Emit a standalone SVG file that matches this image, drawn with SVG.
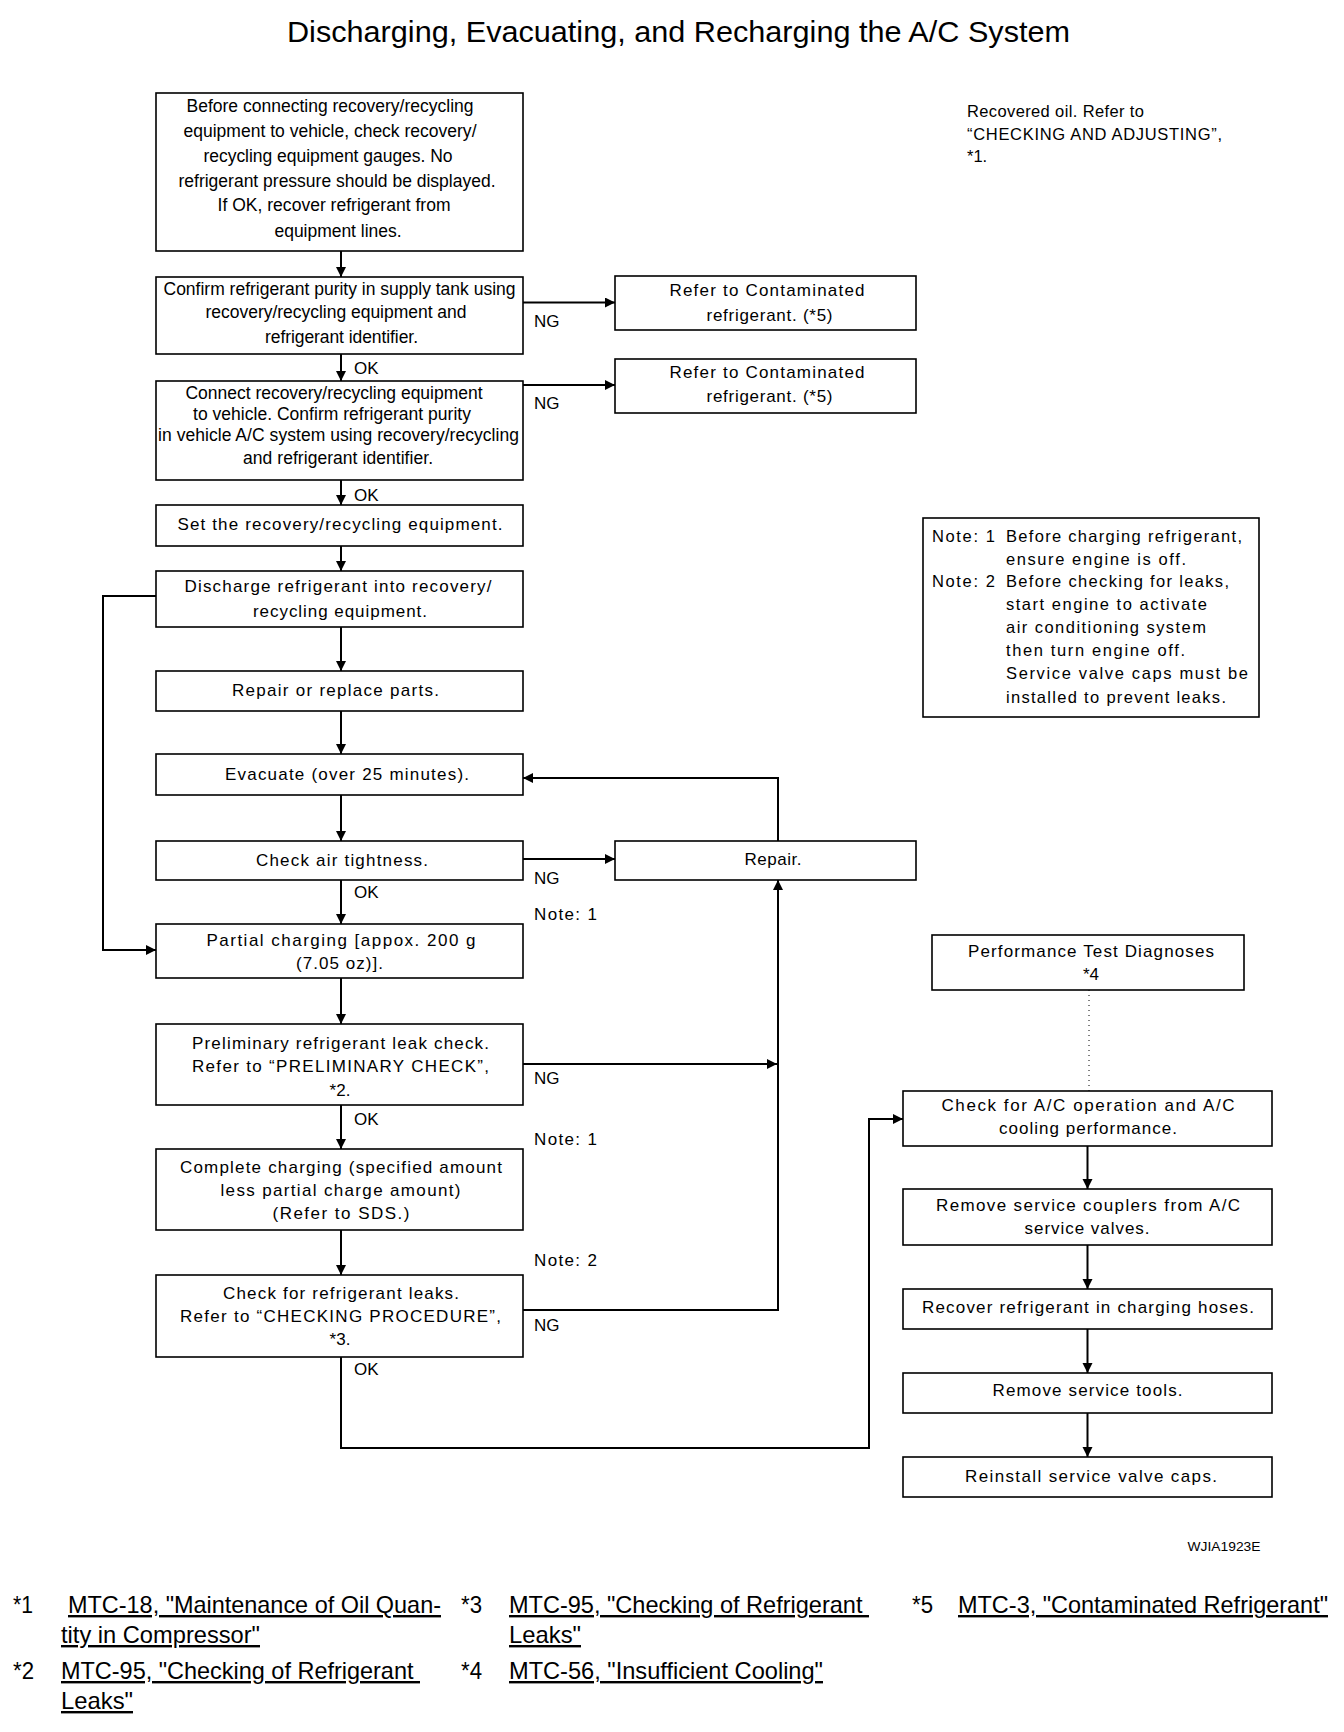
<svg xmlns="http://www.w3.org/2000/svg" width="1344" height="1732" viewBox="0 0 1344 1732">
<defs>
<marker id="ah" markerUnits="userSpaceOnUse" markerWidth="11" markerHeight="11" refX="10" refY="5" orient="auto"><path d="M0,0 L10,5 L0,10 z" fill="#000"/></marker>
<style>
text{font-family:"Liberation Sans",Arial,sans-serif;fill:#000}
.box{fill:#fff;stroke:#000;stroke-width:1.6}
.t{font-size:17.5px;text-anchor:middle}
.s{font-size:17px;text-anchor:middle}
.l{font-size:17px}
.n{font-size:16.5px}
.c{fill:none;stroke:#000;stroke-width:2}
.a{marker-end:url(#ah)}
.d{fill:none;stroke:#000;stroke-width:1;stroke-dasharray:1,4}
.f{font-size:24px}
.u{text-decoration:underline}
</style>
</defs>
<rect width="1344" height="1732" fill="#fff"/>
<text x="678.5" y="42" font-size="30" text-anchor="middle" textLength="783" lengthAdjust="spacingAndGlyphs">Discharging, Evacuating, and Recharging the A/C System</text>

<g id="connectors">
<path class="c a" d="M341,251 V277"/>
<path class="c a" d="M341,354 V381"/>
<path class="c a" d="M341,480 V505"/>
<path class="c a" d="M341,546 V571"/>
<path class="c a" d="M341,627 V671"/>
<path class="c a" d="M341,711 V754"/>
<path class="c a" d="M341,795 V841"/>
<path class="c a" d="M341,880 V924"/>
<path class="c a" d="M341,978 V1024"/>
<path class="c a" d="M341,1105 V1149"/>
<path class="c a" d="M341,1230 V1275"/>
<path class="c a" d="M523,302.5 H615"/>
<path class="c a" d="M523,385 H615"/>
<path class="c a" d="M523,859 H615"/>
<path class="c a" d="M523,1064 H777"/>
<path class="c a" d="M523,1310 H778 V880"/>
<path class="c a" d="M778,841 V778 H523"/>
<path class="c a" d="M156,596 H103 V950 H156"/>
<path class="c a" d="M341,1357 V1448 H869 V1119 H903"/>
<path class="d" d="M1089,990 V1091"/>
<path class="c a" d="M1087.5,1146 V1189"/>
<path class="c a" d="M1087.5,1245 V1289"/>
<path class="c a" d="M1087.5,1329 V1373"/>
<path class="c a" d="M1087.5,1413 V1457"/>
</g>

<g id="labels">
<text class="l" x="534" y="327">NG</text>
<text class="l" x="534" y="409">NG</text>
<text class="l" x="534" y="884">NG</text>
<text class="l" x="534" y="1084">NG</text>
<text class="l" x="534" y="1331">NG</text>
<text class="l" x="354" y="374">OK</text>
<text class="l" x="354" y="501">OK</text>
<text class="l" x="354" y="898">OK</text>
<text class="l" x="354" y="1125">OK</text>
<text class="l" x="354" y="1375">OK</text>
<text class="l" x="534" y="920" textLength="63">Note: 1</text>
<text class="l" x="534" y="1145" textLength="63">Note: 1</text>
<text class="l" x="534" y="1266" textLength="63">Note: 2</text>
</g>

<g id="n-before">
<rect class="box" x="156" y="93" width="367" height="158"/>
<text class="t" x="330" y="112" textLength="287">Before connecting recovery/recycling</text>
<text class="t" x="330" y="137" textLength="293">equipment to vehicle, check recovery/</text>
<text class="t" x="328" y="162" textLength="249">recycling equipment gauges. No</text>
<text class="t" x="337" y="187" textLength="317">refrigerant pressure should be displayed.</text>
<text class="t" x="334" y="211" textLength="233">If OK, recover refrigerant from</text>
<text class="t" x="338" y="237" textLength="127">equipment lines.</text>
</g>

<g id="n-confirm-supply">
<rect class="box" x="156" y="277" width="367" height="77"/>
<text class="t" x="339.5" y="295" textLength="352">Confirm refrigerant purity in supply tank using</text>
<text class="t" x="336" y="318" textLength="261">recovery/recycling equipment and</text>
<text class="t" x="341.5" y="343" textLength="153">refrigerant identifier.</text>
</g>

<g id="n-connect">
<rect class="box" x="156" y="381" width="367" height="99"/>
<text class="t" x="334" y="399" textLength="297">Connect recovery/recycling equipment</text>
<text class="t" x="332" y="420" textLength="278">to vehicle. Confirm refrigerant purity</text>
<text class="t" x="338.5" y="441" textLength="361">in vehicle A/C system using recovery/recycling</text>
<text class="t" x="338" y="464" textLength="190">and refrigerant identifier.</text>
</g>

<g id="n-refer-a">
<rect class="box" x="615" y="276" width="301" height="54"/>
<text class="s" x="767" y="296" textLength="195">Refer to Contaminated</text>
<text class="s" x="769.5" y="321" textLength="126">refrigerant. (*5)</text>
</g>

<g id="n-refer-b">
<rect class="box" x="615" y="359" width="301" height="54"/>
<text class="s" x="767" y="378" textLength="195">Refer to Contaminated</text>
<text class="s" x="769.5" y="402" textLength="126">refrigerant. (*5)</text>
</g>

<g id="n-set">
<rect class="box" x="156" y="505" width="367" height="41"/>
<text class="s" x="340" y="530" textLength="325">Set the recovery/recycling equipment.</text>
</g>

<g id="n-discharge">
<rect class="box" x="156" y="571" width="367" height="56"/>
<text class="s" x="338" y="592" textLength="307">Discharge refrigerant into recovery/</text>
<text class="s" x="340" y="617" textLength="174">recycling equipment.</text>
</g>

<g id="n-repair-parts">
<rect class="box" x="156" y="671" width="367" height="40"/>
<text class="s" x="335.5" y="696" textLength="207">Repair or replace parts.</text>
</g>

<g id="n-evacuate">
<rect class="box" x="156" y="754" width="367" height="41"/>
<text class="s" x="347" y="780" textLength="244">Evacuate (over 25 minutes).</text>
</g>

<g id="n-check-air">
<rect class="box" x="156" y="841" width="367" height="39"/>
<text class="s" x="342" y="866" textLength="172">Check air tightness.</text>
</g>

<g id="n-repair">
<rect class="box" x="615" y="841" width="301" height="39"/>
<text class="s" x="773" y="865" textLength="57">Repair.</text>
</g>

<g id="n-partial">
<rect class="box" x="156" y="924" width="367" height="54"/>
<text class="s" x="341" y="946" textLength="269">Partial charging [appox. 200 g</text>
<text class="s" x="339.5" y="969" textLength="87">(7.05 oz)].</text>
</g>

<g id="n-prelim">
<rect class="box" x="156" y="1024" width="367" height="81"/>
<text class="s" x="340.5" y="1049" textLength="297">Preliminary refrigerant leak check.</text>
<text class="s" x="340.5" y="1072" textLength="297">Refer to “PRELIMINARY CHECK”,</text>
<text class="s" x="340" y="1096">*2.</text>
</g>

<g id="n-complete">
<rect class="box" x="156" y="1149" width="367" height="81"/>
<text class="s" x="341" y="1173" textLength="322">Complete charging (specified amount</text>
<text class="s" x="340.5" y="1196" textLength="240">less partial charge amount)</text>
<text class="s" x="341" y="1219" textLength="137">(Refer to SDS.)</text>
</g>

<g id="n-check-leaks">
<rect class="box" x="156" y="1275" width="367" height="82"/>
<text class="s" x="341" y="1299" textLength="236">Check for refrigerant leaks.</text>
<text class="s" x="340.5" y="1322" textLength="321">Refer to “CHECKING PROCEDURE”,</text>
<text class="s" x="340" y="1345">*3.</text>
</g>

<g id="n-perf">
<rect class="box" x="932" y="935" width="312" height="55"/>
<text class="s" x="1091" y="957" textLength="246">Performance Test Diagnoses</text>
<text class="s" x="1091" y="980">*4</text>
</g>

<g id="n-check-ac">
<rect class="box" x="903" y="1091" width="369" height="55"/>
<text class="s" x="1088" y="1111" textLength="293">Check for A/C operation and A/C</text>
<text class="s" x="1088" y="1134" textLength="178">cooling performance.</text>
</g>

<g id="n-remove-couplers">
<rect class="box" x="903" y="1189" width="369" height="56"/>
<text class="s" x="1088" y="1211" textLength="304">Remove service couplers from A/C</text>
<text class="s" x="1087" y="1234" textLength="125">service valves.</text>
</g>

<g id="n-recover">
<rect class="box" x="903" y="1289" width="369" height="40"/>
<text class="s" x="1088" y="1313" textLength="332">Recover refrigerant in charging hoses.</text>
</g>

<g id="n-remove-tools">
<rect class="box" x="903" y="1373" width="369" height="40"/>
<text class="s" x="1087.5" y="1396" textLength="190">Remove service tools.</text>
</g>

<g id="n-reinstall">
<rect class="box" x="903" y="1457" width="369" height="40"/>
<text class="s" x="1091" y="1482" textLength="252">Reinstall service valve caps.</text>
</g>

<g id="n-note">
<rect class="box" x="923" y="518" width="336" height="199"/>
<text class="n" x="932" y="542" textLength="63">Note: 1</text>
<text class="n" x="1006" y="542" textLength="236">Before charging refrigerant,</text>
<text class="n" x="1006" y="565" textLength="180">ensure engine is off.</text>
<text class="n" x="932" y="587" textLength="63">Note: 2</text>
<text class="n" x="1006" y="587" textLength="223">Before checking for leaks,</text>
<text class="n" x="1006" y="610" textLength="201">start engine to activate</text>
<text class="n" x="1006" y="633" textLength="200">air conditioning system</text>
<text class="n" x="1006" y="656" textLength="179">then turn engine off.</text>
<text class="n" x="1006" y="679" textLength="242">Service valve caps must be</text>
<text class="n" x="1006" y="703" textLength="220">installed to prevent leaks.</text>
</g>

<g id="n-recovered-oil">
<text class="n" x="967" y="117" textLength="177">Recovered oil. Refer to</text>
<text class="n" x="967" y="140" textLength="255">“CHECKING AND ADJUSTING”,</text>
<text class="n" x="967" y="162">*1.</text>
</g>

<text x="1224" y="1551" font-size="12.5" text-anchor="middle" textLength="73" lengthAdjust="spacingAndGlyphs">WJIA1923E</text>

<g id="footnotes">
<text class="f" x="13" y="1613" textLength="20" lengthAdjust="spacingAndGlyphs">*1</text>
<text class="f u" x="68" y="1613" textLength="373" lengthAdjust="spacingAndGlyphs">MTC-18, "Maintenance of Oil Quan-</text>
<text class="f u" x="61" y="1643" textLength="199" lengthAdjust="spacingAndGlyphs">tity in Compressor"</text>
<text class="f" x="461" y="1613" textLength="21" lengthAdjust="spacingAndGlyphs">*3</text>
<text class="f u" x="509" y="1613" textLength="360" lengthAdjust="spacingAndGlyphs" xml:space="preserve">MTC-95, "Checking of Refrigerant </text>
<text class="f u" x="509" y="1643" textLength="72" lengthAdjust="spacingAndGlyphs">Leaks"</text>
<text class="f" x="912" y="1613" textLength="21" lengthAdjust="spacingAndGlyphs">*5</text>
<text class="f u" x="958" y="1613" textLength="370" lengthAdjust="spacingAndGlyphs">MTC-3, "Contaminated Refrigerant"</text>
<text class="f" x="13" y="1679" textLength="21" lengthAdjust="spacingAndGlyphs">*2</text>
<text class="f u" x="61" y="1679" textLength="359" lengthAdjust="spacingAndGlyphs" xml:space="preserve">MTC-95, "Checking of Refrigerant </text>
<text class="f u" x="61" y="1709" textLength="72" lengthAdjust="spacingAndGlyphs">Leaks"</text>
<text class="f" x="461" y="1679" textLength="21" lengthAdjust="spacingAndGlyphs">*4</text>
<text class="f u" x="509" y="1679" textLength="314" lengthAdjust="spacingAndGlyphs">MTC-56, "Insufficient Cooling"</text>
</g>
</svg>
